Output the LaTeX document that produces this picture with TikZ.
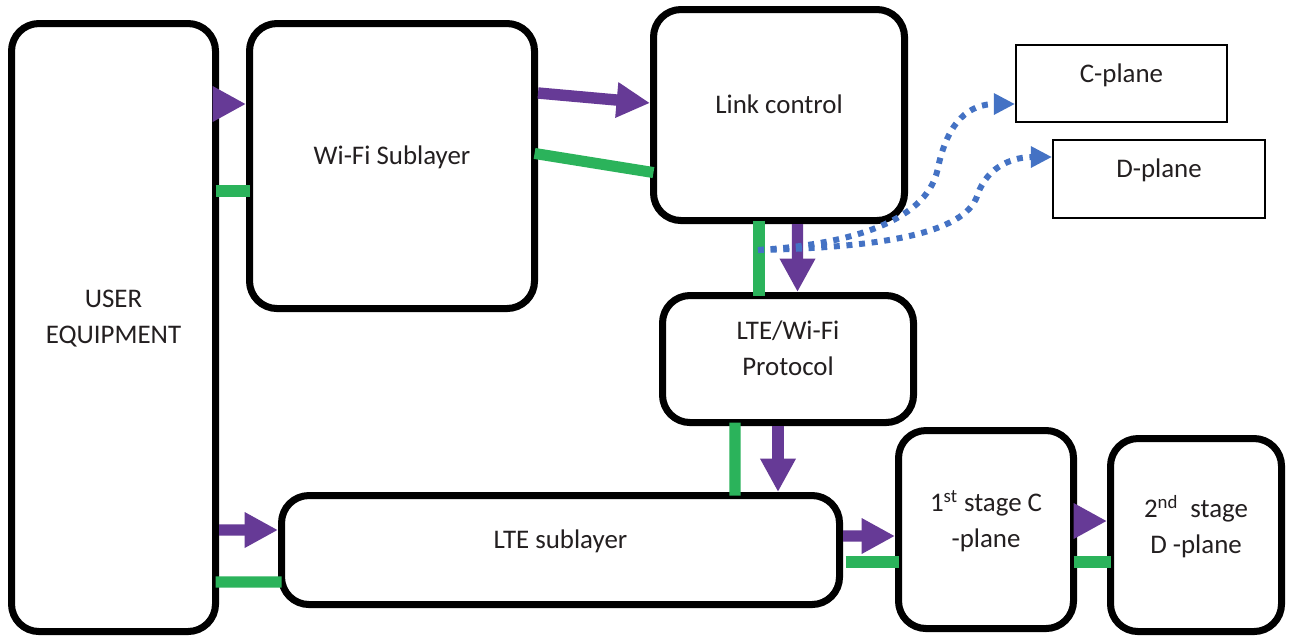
\documentclass[tikz,border=0pt]{standalone}
\usepackage{fontspec}
\setmainfont{Carlito}
\usetikzlibrary{calc,arrows.meta,positioning}
\usepackage{xcolor}
\definecolor{ink}{HTML}{231F20}
\definecolor{purple}{HTML}{663A96}
\definecolor{green}{HTML}{2BB35B}
\definecolor{blue}{HTML}{4472C4}

\begin{document}
\begin{tikzpicture}[
  blocknode/.style={
    rectangle,
    line width=4pt,
    draw=black,
    rounded corners=0.55cm,
    align=center,
    text depth=12pt,
    font=\fontsize{15.3}{20.4}\selectfont\color{ink}
  },
  planenode/.style={
    rectangle,
    line width=1.1pt,
    draw=black,
    text depth=12pt,
    font=\fontsize{15.3}{20.4}\selectfont\color{ink}
  },
  dataflow/.style={line width=6.5pt, purple, -{Triangle[length=19pt, width=19pt]}},
  ctrlbar/.style={line width=6.3pt, green, shorten <=-2pt, shorten >=-2pt},
  signal/.style={line width=3.4pt, blue, dash pattern=on 3.4pt off 3.8pt, -{Triangle[length=12pt, width=11.5pt]}}
  ]

  \fill[white] (0,0) rectangle (25.98,-12.86);
  \useasboundingbox (0,0) rectangle (25.98,-12.86);

  % user equipment and its two sublayers
  \node[anchor=north west, blocknode, minimum width=4.08cm, minimum height=12.16cm] (ue) at (0.16,-0.40) {USER\\EQUIPMENT};
  \node[anchor=north west, blocknode, minimum width=5.70cm, minimum height=5.70cm] (wifi) at (4.92,-0.40) {Wi-Fi Sublayer};
  \node[anchor=north west, blocknode, minimum width=11.16cm, minimum height=2.18cm] (lte) at (5.56,-9.84) {LTE sublayer};

  % control part
  \node[anchor=north west, blocknode, minimum width=5.02cm, minimum height=4.22cm] (link) at (13.0,-0.12) {Link control};
  \node[anchor=north west, blocknode, minimum width=5.02cm, minimum height=2.54cm] (proto) at (13.18,-5.84) {LTE/Wi-Fi\\Protocol};

  % planes
  \node[anchor=north west, planenode, minimum width=4.22cm, minimum height=1.54cm] (cplane) at (20.30,-0.88) {C-plane};
  \node[anchor=north west, planenode, minimum width=4.24cm, minimum height=1.56cm] (dplane) at (21.04,-2.78) {D-plane};

  % stages
  \node[anchor=north west, blocknode, minimum width=3.50cm, minimum height=3.96cm] (stage1) at (17.90,-8.54) {1\textsuperscript{st} stage C\\-plane};
  \node[anchor=north west, blocknode, minimum width=3.42cm, minimum height=3.86cm] (stage2) at (22.14,-8.70) {2\textsuperscript{nd}~ stage\\D -plane};

  % links out of the user equipment
  \draw[dataflow] ($(ue.north east)+(0,-1.68)$) -- ($(wifi.north west)+(0,-1.68)$);
  \draw[ctrlbar] ($(ue.north east)+(0,-3.42)$) -- ($(wifi.north west)+(0,-3.42)$);
  \draw[dataflow] ($(ue.north east)+(0,-10.20)$) -- ($(lte.north west)+(0,-0.76)$);
  \draw[ctrlbar] ($(ue.north east)+(0,-11.24)$) -- ($(lte.north west)+(0,-1.80)$);

  % wifi -> link control -> protocol -> lte
  \draw[dataflow] ($(wifi.north east)+(0,-1.46)$) -- ($(link.north west)+(0,-1.94)$);
  \draw[ctrlbar] ($(wifi.north east)+(0,-2.68)$) -- ($(link.north west)+(0,-3.32)$);
  \draw[ctrlbar] ($(link.south west)+(2.18,0)$) -- ($(proto.north west)+(2.00,0)$);
  \draw[dataflow] ($(link.south west)+(2.95,0)$) -- ($(proto.north west)+(2.77,0)$);
  \draw[ctrlbar] ($(proto.south west)+(1.52,0)$) -- ($(lte.north west)+(9.14,0)$);
  \draw[dataflow] ($(proto.south west)+(2.38,0)$) -- ($(lte.north west)+(10.0,0)$);

  % lte -> stages
  \draw[dataflow] ($(lte.north east)+(0,-0.88)$) -- ($(stage1.north west)+(0,-2.18)$);
  \draw[ctrlbar] ($(lte.north east)+(0.12,-1.40)$) -- ($(stage1.north west)+(0,-2.70)$);
  \draw[dataflow] ($(stage1.north east)+(0,-1.88)$) -- ($(stage2.north west)+(0,-1.72)$);
  \draw[ctrlbar] ($(stage1.north east)+(0,-2.70)$) -- ($(stage2.north west)+(0,-2.54)$);

  % signalling to the planes
  \coordinate (split) at (15.16,-5.00);
  \draw[signal] (split) .. controls (16.8,-4.9) and (18.5,-4.5) .. (18.75,-3.4)
    .. controls (18.95,-2.4) and (19.4,-2.08) .. ($(cplane.north west)+(0,-1.20)$);
  \draw[signal] (split) .. controls (17.5,-4.95) and (19.3,-4.7) .. (19.55,-3.9)
    .. controls (19.75,-3.3) and (20.3,-3.14) .. ($(dplane.north west)+(0,-0.36)$);

\end{tikzpicture}
\end{document}
